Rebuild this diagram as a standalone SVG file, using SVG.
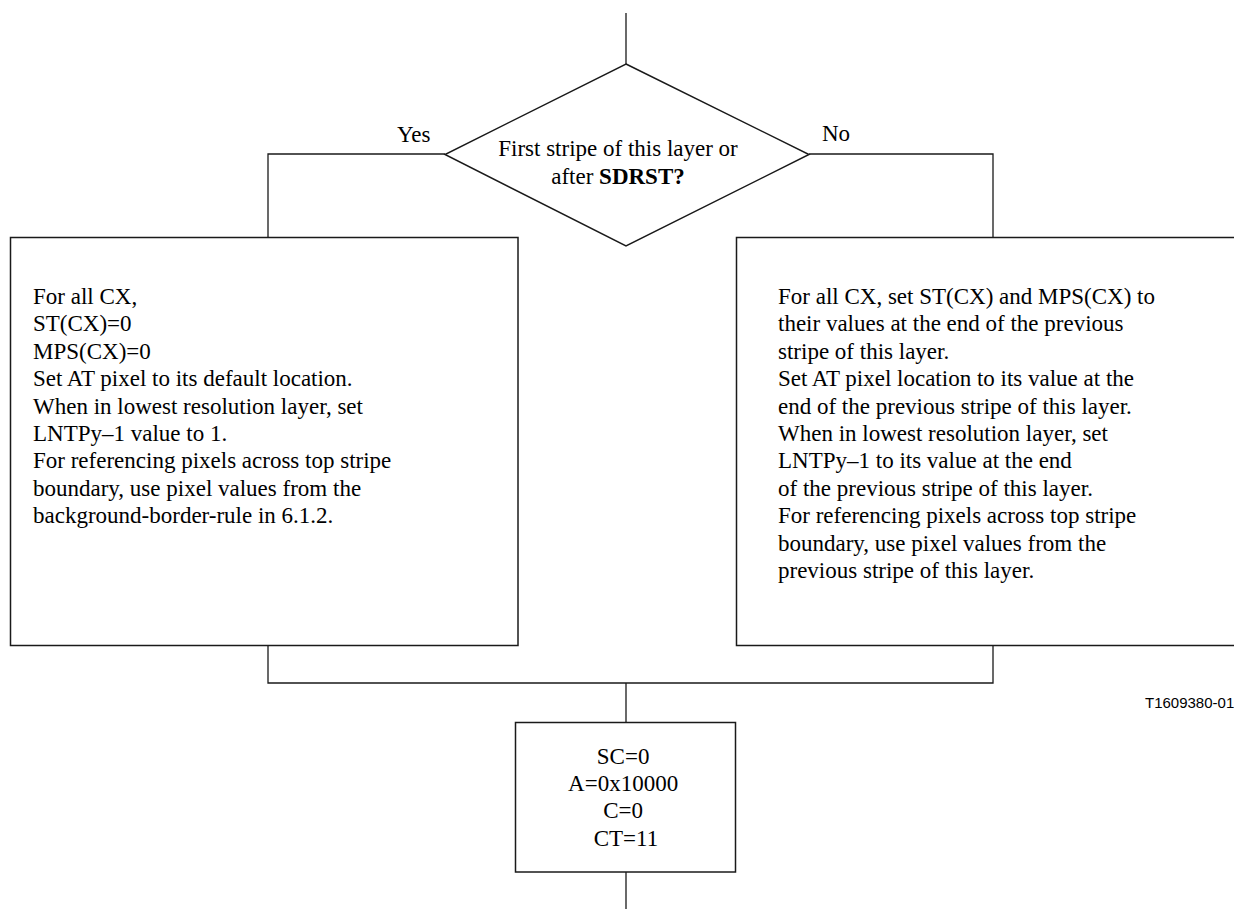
<svg xmlns="http://www.w3.org/2000/svg" width="1234" height="909" viewBox="0 0 1234 909">
<style>
.s{fill:none;stroke:#1a1a1a;stroke-width:1.3}
.b{fill:#fff;stroke:#1a1a1a;stroke-width:1.5}
.t{font-family:"Liberation Serif","Times New Roman",serif;font-size:23px;fill:#000}
.c{text-anchor:middle}
.lbl{font-family:"Liberation Sans",Arial,sans-serif;font-size:15px;fill:#000}
</style>
<rect width="1234" height="909" fill="#fff"/>
<g id="connectors">
<path class="s" d="M626 13V64"/>
<path class="s" d="M445 154H268V237"/>
<path class="s" d="M809 154H993V237"/>
<path class="s" d="M268 645V683H993V645"/>
<path class="s" d="M626 683V722"/>
<path class="s" d="M626 872V909"/>
</g>
<g id="decision">
<polygon class="b" points="626,64 809,154.5 626,246 445,154.5"/>
<text class="t c" x="618" y="156">First stripe of this layer or</text>
<text class="t c" x="618" y="184">after <tspan font-weight="bold">SDRST?</tspan></text>
</g>
<g id="label-yes"><text class="t" x="397" y="142">Yes</text></g>
<g id="label-no"><text class="t" x="822" y="141">No</text></g>
<g id="box-yes">
<rect class="b" x="10.5" y="237.5" width="507.5" height="408"/>
<text class="t">
<tspan x="33" y="304">For all CX,</tspan>
<tspan x="33" y="331.4">ST(CX)=0</tspan>
<tspan x="33" y="358.8">MPS(CX)=0</tspan>
<tspan x="33" y="386.2">Set AT pixel to its default location.</tspan>
<tspan x="33" y="413.6">When in lowest resolution layer, set</tspan>
<tspan x="33" y="441">LNTPy–1 value to 1.</tspan>
<tspan x="33" y="468.4">For referencing pixels across top stripe</tspan>
<tspan x="33" y="495.8">boundary, use pixel values from the</tspan>
<tspan x="33" y="523.2">background-border-rule in 6.1.2.</tspan>
</text>
</g>
<g id="box-no">
<rect class="b" x="736.5" y="237.5" width="530" height="408"/>
<text class="t">
<tspan x="778" y="304">For all CX, set ST(CX) and MPS(CX) to</tspan>
<tspan x="778" y="331.4">their values at the end of the previous</tspan>
<tspan x="778" y="358.8">stripe of this layer.</tspan>
<tspan x="778" y="386.2">Set AT pixel location to its value at the</tspan>
<tspan x="778" y="413.6">end of the previous stripe of this layer.</tspan>
<tspan x="778" y="441">When in lowest resolution layer, set</tspan>
<tspan x="778" y="468.4">LNTPy–1 to its value at the end</tspan>
<tspan x="778" y="495.8">of the previous stripe of this layer.</tspan>
<tspan x="778" y="523.2">For referencing pixels across top stripe</tspan>
<tspan x="778" y="550.6">boundary, use pixel values from the</tspan>
<tspan x="778" y="578">previous stripe of this layer.</tspan>
</text>
</g>
<g id="box-init">
<rect class="b" x="515.5" y="722.5" width="220" height="149.5"/>
<text class="t c">
<tspan x="626" y="764">SC=0</tspan>
<tspan x="626" y="791">A=0x10000</tspan>
<tspan x="626" y="818">C=0</tspan>
<tspan x="626" y="846">CT=11</tspan>
</text>
</g>
<g id="figure-id"><text class="lbl" x="1145" y="708">T1609380-01</text></g>
</svg>
